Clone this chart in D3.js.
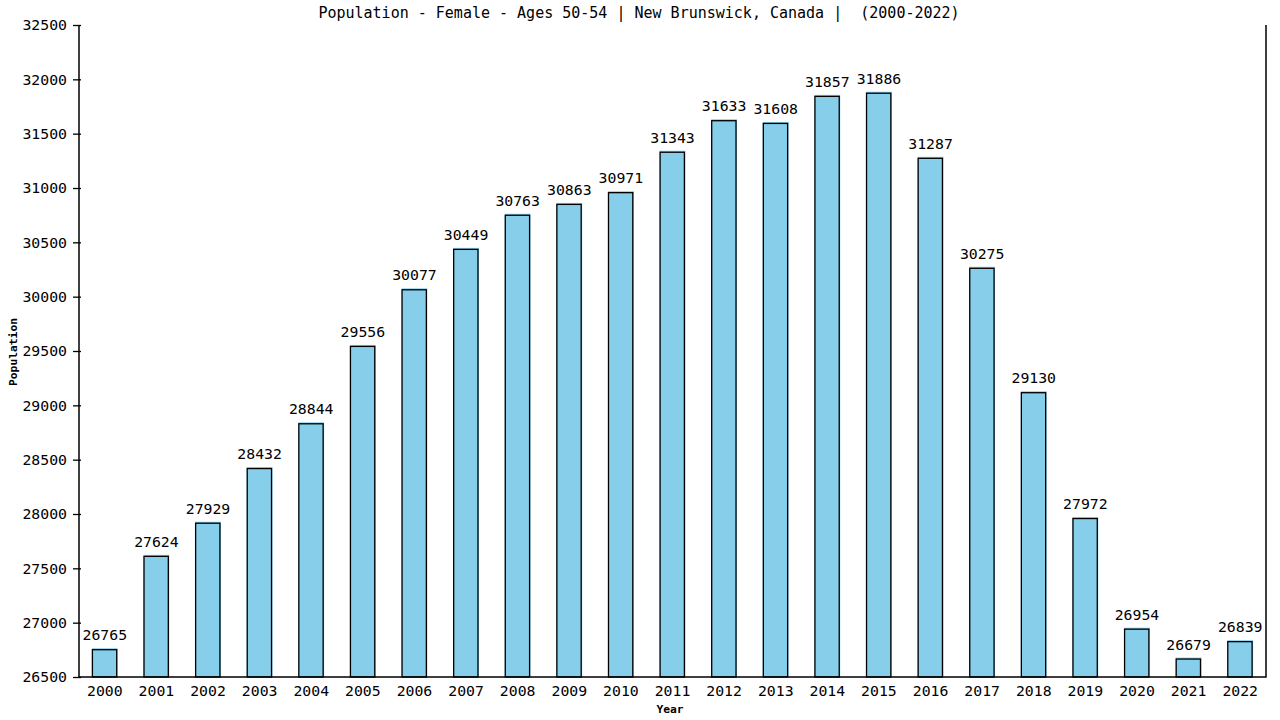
<!DOCTYPE html>
<html>
<head>
<meta charset="utf-8">
<script src="https://cdn.jsdelivr.net/npm/d3@7.9.0/dist/d3.min.js"></script>
<style>
  body { margin: 0; background: #fff; }
  svg { display: block; font-family: "DejaVu Sans Mono", monospace; }
</style>
</head>
<body>
<svg id="chart" width="1280" height="720"></svg>
<script>
const years = ["2000", "2001", "2002", "2003", "2004", "2005", "2006", "2007", "2008", "2009", "2010", "2011",
  "2012", "2013", "2014", "2015", "2016", "2017", "2018", "2019", "2020", "2021", "2022"];
const population = [26765, 27624, 27929, 28432, 28844, 29556, 30077, 30449, 30763, 30863, 30971, 31343,
  31633, 31608, 31857, 31886, 31287, 30275, 29130, 27972, 26954, 26679, 26839];
const yTicks = [26500, 27000, 27500, 28000, 28500, 29000, 29500, 30000, 30500, 31000, 31500, 32000, 32500];

const plotLeft = 79, plotRight = 1266, plotTop = 25, plotBottom = 677;

const svg = d3.select("#chart");

const x = d3.scaleBand()
  .domain(years)
  .range([plotLeft, plotRight])
  .paddingInner(0.5)
  .paddingOuter(0.25);

const y = d3.scaleLinear()
  .domain([26500, 32500])
  .range([plotBottom, plotTop]);

// bars: blue fill with a black outline shifted down a pixel
const bars = svg.append("g")
  .selectAll("g")
  .data(years.map((yr, i) => ({ year: yr, value: population[i] })))
  .join("g");

bars.append("rect")
  .attr("x", (d) => x(d.year))
  .attr("y", (d) => y(d.value))
  .attr("width", x.bandwidth())
  .attr("height", (d) => plotBottom - y(d.value))
  .attr("fill", "#87ceeb");

bars.append("rect")
  .attr("x", (d) => x(d.year) + 0.5)
  .attr("y", (d) => y(d.value) + 1.5)
  .attr("width", x.bandwidth() - 1.5)
  .attr("height", (d) => plotBottom - y(d.value) - 1.5)
  .attr("fill", "none")
  .attr("stroke", "#000")
  .attr("stroke-width", 1.3);

bars.append("text")
  .attr("x", (d) => x(d.year) + x.bandwidth() / 2)
  .attr("y", (d) => y(d.value) - 8)
  .attr("text-anchor", "middle")
  .attr("font-size", 14.8)
  .text((d) => d.value);

// y axis
const yAxis = svg.append("g")
  .attr("transform", `translate(${plotLeft},0)`)
  .call(d3.axisLeft(y).tickValues(yTicks).tickSize(6).tickPadding(6).tickFormat(d3.format("d")));
yAxis.select(".domain").remove();
yAxis.selectAll(".tick line").attr("x2", -6).attr("x1", 2).attr("stroke-width", 1.3);
yAxis.selectAll(".tick text")
  .attr("font-family", "DejaVu Sans Mono, monospace")
  .attr("font-size", 14.8)
  .attr("fill", "#000");

// x axis
const xAxis = svg.append("g")
  .attr("transform", `translate(0,${plotBottom})`)
  .call(d3.axisBottom(x).tickSize(0).tickPadding(8));
xAxis.select(".domain").remove();
xAxis.selectAll(".tick text")
  .attr("font-family", "DejaVu Sans Mono, monospace")
  .attr("font-size", 14.8)
  .attr("fill", "#000");

// frame lines: left, bottom, right
svg.append("path")
  .attr("d", `M${plotLeft},${plotTop}V${plotBottom}H${plotRight}V${plotTop}`)
  .attr("fill", "none")
  .attr("stroke", "#000")
  .attr("stroke-width", 1.5);

svg.append("text")
  .attr("x", 639)
  .attr("y", 18)
  .attr("text-anchor", "middle")
  .attr("font-size", 15)
  .attr("xml:space", "preserve")
  .text("Population - Female - Ages 50-54 | New Brunswick, Canada |  (2000-2022)");

svg.append("text")
  .attr("transform", "translate(17,352) rotate(-90)")
  .attr("text-anchor", "middle")
  .attr("font-size", 11.3)
  .attr("font-weight", "bold")
  .text("Population");

svg.append("text")
  .attr("x", 670)
  .attr("y", 713)
  .attr("text-anchor", "middle")
  .attr("font-size", 11.3)
  .attr("font-weight", "bold")
  .text("Year");
</script>
</body>
</html>
